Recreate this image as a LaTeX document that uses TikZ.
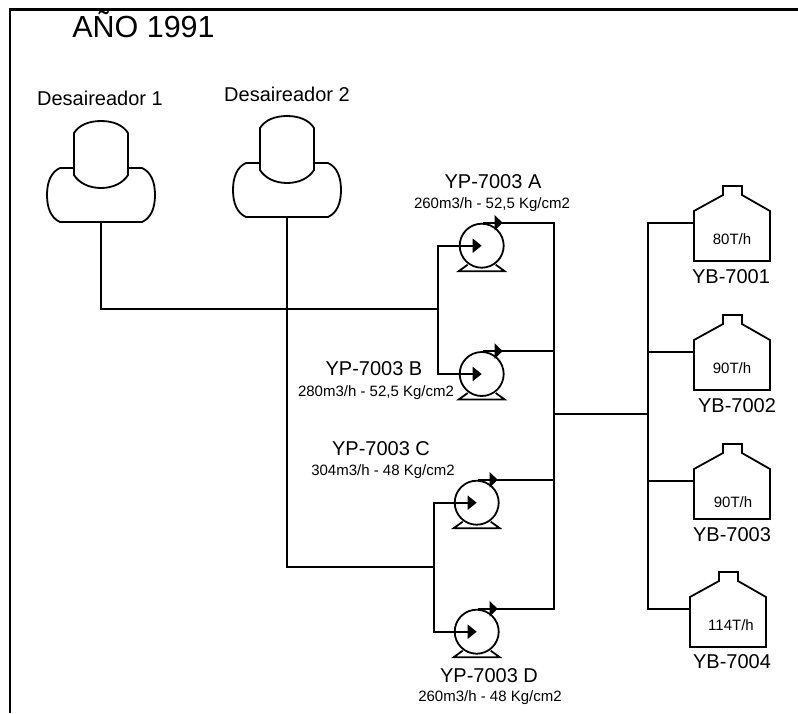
\documentclass[tikz,border=0pt]{standalone}
\usepackage{fontspec}
\setmainfont{Liberation Sans}
\usetikzlibrary{arrows.meta}
\tikzset{
  pipe/.style={line width=1.8pt, black},
  inflow/.style={pipe, -{Triangle[length=9pt,width=14pt]}},
  outflow/.style={pipe, -{Triangle[length=8pt,width=15pt]}},
  bigtitle/.style={anchor=base, font=\fontsize{30.5}{32}\selectfont},
  tag/.style={anchor=base, font=\fontsize{20}{22}\selectfont},
  rate/.style={anchor=base, font=\fontsize{15}{17}\selectfont},
  pumpbody/.style={circle, draw, line width=1.8pt, minimum size=44pt, inner sep=0pt},
  pics/drum/.style={code={
    \draw[pipe] (-27,-54) -- (-41,-54) .. controls (-50,-50) and (-54,-40) .. (-54,-27)
      .. controls (-54,-14) and (-50,-4) .. (-41,0) -- (41,0)
      .. controls (50,-4) and (54,-14) .. (54,-27)
      .. controls (54,-40) and (50,-50) .. (41,-54) -- (27,-54);
    \draw[pipe] (-27,-89) .. controls (-22,-97) and (-12,-101) .. (0,-101)
      .. controls (12,-101) and (22,-97) .. (27,-89) -- (27,-47)
      .. controls (22,-39) and (12,-34) .. (0,-34)
      .. controls (-12,-34) and (-22,-39) .. (-27,-47) -- cycle;
    \coordinate (-out) at (0,0);
  }},
  pics/tank/.style={code={
    \draw[pipe] (-38,0) -- (-38,-50) -- (-9,-66) -- (-9,-75) -- (10,-75) -- (10,-66)
      -- (38,-50) -- (38,0) -- cycle;
    \coordinate (-in) at (-38,-38);
  }},
  pics/pumpfoot/.style={code={
    \draw[pipe] (-14,19) -- (-23,25.5) -- (23,25.5) -- (14,19);
  }}
}
\begin{document}
\begin{tikzpicture}[x=1pt, y=-1pt]
  \useasboundingbox (0,0) rectangle (798,713);
  % frame
  \draw[line width=2.4pt] (10,713) -- (10,9.5) -- (798,9.5);

  \node[bigtitle] (title) at (143.5,37) {AÑO 1991};

  % deaerators
  \pic (dsa) at (101,222) {drum};
  \pic (dsb) at (287,217) {drum};
  \node[tag] (dsalabel) at (100,105) {Desaireador 1};
  \node[tag] (dsblabel) at (287,101) {Desaireador 2};

  % pumps
  \node[pumpbody] (pa) at (481.7,245.7) {};
  \node[pumpbody] (pb) at (481.7,374) {};
  \node[pumpbody] (pc) at (476.7,502.7) {};
  \node[pumpbody] (pd) at (476.7,631.7) {};
  \foreach \p in {pa,pb,pc,pd}
    \pic at (\p) {pumpfoot};

  \node[tag] (palabel) at (493,188) {YP-7003 A};
  \node[rate] (parate) at (492,208) {260m3/h - 52,5 Kg/cm2};
  \node[tag] (pblabel) at (374,375) {YP-7003 B};
  \node[rate] (pbrate) at (376,396) {280m3/h - 52,5 Kg/cm2};
  \node[tag] (pclabel) at (381,455) {YP-7003 C};
  \node[rate] (pcrate) at (383,475) {304m3/h - 48 Kg/cm2};
  \node[tag] (pdlabel) at (489,682.7) {YP-7003 D};
  \node[rate] (pdrate) at (490,701.7) {260m3/h - 48 Kg/cm2};

  % boilers
  \pic (yba) at (732,261) {tank};
  \pic (ybb) at (732,390) {tank};
  \pic (ybc) at (732,519) {tank};
  \pic (ybd) at (728,647) {tank};
  \node[rate] (ybarate) at (732,244) {80T/h};
  \node[rate] (ybbrate) at (732,373) {90T/h};
  \node[rate] (ybcrate) at (733,507) {90T/h};
  \node[rate] (ybdrate) at (731,630) {114T/h};
  \node[tag] (ybalabel) at (731,283) {YB-7001};
  \node[tag] (ybblabel) at (737,412) {YB-7002};
  \node[tag] (ybclabel) at (732,541) {YB-7003};
  \node[tag] (ybdlabel) at (732,668) {YB-7004};

  % junctions
  \coordinate (feedab) at (438,309);
  \coordinate (feedcd) at (433.7,567);
  \coordinate (header) at (554,414);
  \coordinate (bus) at (648,414);

  % suction lines
  \draw[pipe] (dsa-out) |- (feedab);
  \draw[pipe] (dsb-out) |- (feedcd);
  \draw[inflow] (feedab) |- (pa.center);
  \draw[inflow] (feedab) |- (pb.center);
  \draw[inflow] (feedcd) |- (pc.center);
  \draw[inflow] (feedcd) |- (pd.center);

  % discharge lines
  \foreach \p in {pa,pb,pc,pd}
    \draw[outflow] ([xshift=1pt]\p.north) -- ++(20,0);
  \draw[pipe] ([xshift=19pt]pa.north) -- (pa.north -| header) -- (pd.north -| header) -- ([xshift=19pt]pd.north);
  \draw[pipe] ([xshift=19pt]pb.north) -- (pb.north -| header);
  \draw[pipe] ([xshift=19pt]pc.north) -- (pc.north -| header);
  \draw[pipe] (header) -- (bus);

  % boiler bus
  \draw[pipe] (yba-in) -- (yba-in -| bus) -- (ybd-in -| bus) -- (ybd-in);
  \draw[pipe] (ybb-in -| bus) -- (ybb-in);
  \draw[pipe] (ybc-in -| bus) -- (ybc-in);
\end{tikzpicture}
\end{document}
